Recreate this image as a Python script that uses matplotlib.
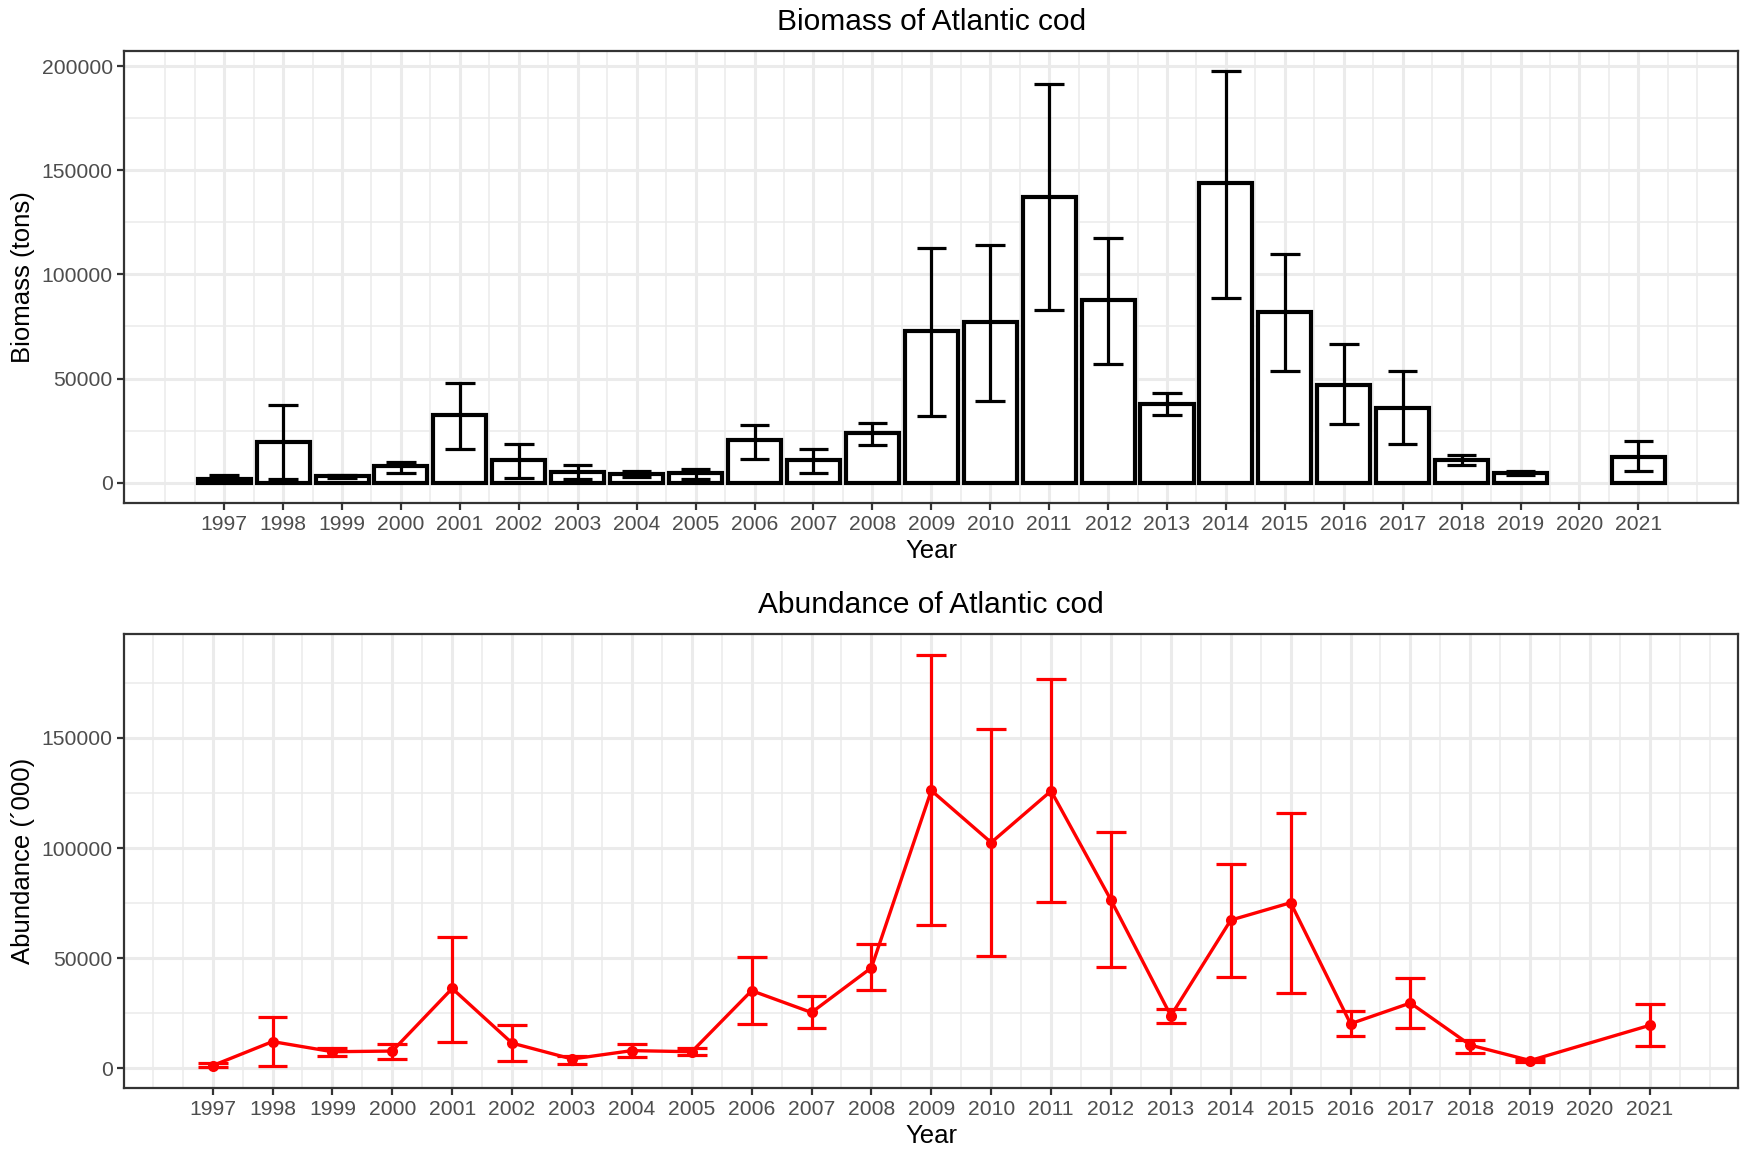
import numpy as np
import matplotlib
matplotlib.use("Agg")
import matplotlib.pyplot as plt
from matplotlib.ticker import FixedLocator

plt.rcParams['font.family'] = ['Liberation Sans', 'DejaVu Sans']

# ---------------- data ----------------
years = list(range(1997, 2022))
nan = float('nan')

biomass = [1900, 19500, 3200, 8000, 32600, 10900, 5100, 4150, 4600, 20300,
           10900, 24000, 72700, 77100, 137300, 87800, 38000, 143700, 81900,
           47100, 35900, 10700, 4800, nan, 12300]
biomass_lo = [300, 1600, 2100, 4800, 16400, 2200, 1900, 2900, 1900, 11500,
              4600, 18200, 31800, 39300, 82700, 57000, 32700, 88900, 53500,
              28100, 18800, 8300, 3500, nan, 5400]
biomass_hi = [3800, 37400, 3800, 9900, 48100, 18400, 8300, 5400, 6700, 27600,
              16400, 28700, 112900, 114000, 191600, 117500, 43000, 197500,
              109900, 66400, 53700, 13100, 5400, nan, 20000]

abundance = [1300, 12200, 7600, 7900, 36300, 11500, 4300, 8100, 7600, 35300,
             25400, 45700, 126100, 102500, 125900, 76400, 23900, 67300, 75200,
             20300, 29700, 10600, 3600, nan, 19600]
abundance_lo = [500, 1000, 5800, 4300, 12200, 3300, 2100, 5100, 5900, 20000,
                18300, 35500, 65000, 51200, 75600, 46000, 20500, 41600, 34300,
                14900, 18300, 7100, 3000, nan, 10100]
abundance_hi = [2600, 23400, 9100, 11100, 59700, 19500, 5600, 10900, 9200,
                50500, 32800, 56300, 187600, 154000, 176900, 107400, 27100,
                92900, 115700, 26100, 41100, 12900, 4300, nan, 29400]

x_tick_labels = [str(y) for y in years]
biomass_yticks = [0, 50000, 100000, 150000, 200000]
abundance_yticks = [0, 50000, 100000, 150000]

title_top = "Biomass of Atlantic cod"
title_bottom = "Abundance of Atlantic cod"
ylabel_top = "Biomass (tons)"
ylabel_bottom = "Abundance (\u00b4000)"
xlabel = "Year"

# ---------------- style ----------------
W, H = 1743, 1151
GRID = "#EBEBEB"
DARK = "#333333"
TICKTXT = "#4D4D4D"
BAR_W = 0.9
ERR_W = 0.5

fig = plt.figure(figsize=(W / 100, H / 100), dpi=100)
fig.patch.set_facecolor("white")


def px_axes(l, t, r, b):
    return fig.add_axes([l / W, 1 - b / H, (r - l) / W, (b - t) / H])


def expand(lo, hi, m=0.05):
    d = hi - lo
    return lo - m * d, hi + m * d


def style(ax, yticks, xlim, ylim, title, ylabel):
    ax.set_xlim(*xlim)
    ax.set_ylim(*ylim)
    ax.set_axisbelow(True)
    for s in ax.spines.values():
        s.set_color(DARK)
        s.set_linewidth(1.6)
        s.set_zorder(10)
    ax.xaxis.set_major_locator(FixedLocator(years))
    ax.set_xticklabels(x_tick_labels)
    xminor = np.arange(years[0] - 1, years[-1] + 1.001, 0.5)
    ax.xaxis.set_minor_locator(FixedLocator(xminor))
    ax.yaxis.set_major_locator(FixedLocator(yticks))
    ax.set_yticklabels([str(v) for v in yticks])
    step = yticks[1] - yticks[0]
    yminor = np.arange(yticks[0] - step, yticks[-1] + step * 1.001, step / 2)
    ax.yaxis.set_minor_locator(FixedLocator(yminor))
    ax.grid(True, which="major", color=GRID, linewidth=2.2)
    ax.grid(True, which="minor", color=GRID, linewidth=1.1)
    ax.tick_params(which="major", length=4.8, width=1.6, color=DARK,
                   labelsize=15.2, labelcolor=TICKTXT, pad=3.5)
    ax.tick_params(which="minor", length=0)
    ax.set_title(title, fontsize=21.5, color="black", y=1.064, va="center",
                 pad=0)
    ax.set_xlabel(xlabel, fontsize=18.5, color="black")
    ax.xaxis.set_label_coords(0.5, -0.106)
    ax.xaxis.label.set_va("center")
    ax.set_ylabel(ylabel, fontsize=18.5, color="black")
    ax.yaxis.set_label_coords(-0.063, 0.5)
    ax.yaxis.label.set_va("center")


def draw_errorbars(ax, xs, lo, hi, color, lw):
    for x, l, h in zip(xs, lo, hi):
        if np.isnan(l) or np.isnan(h):
            continue
        ax.plot([x - ERR_W / 2, x + ERR_W / 2, np.nan, x, x, np.nan,
                 x - ERR_W / 2, x + ERR_W / 2],
                [h, h, np.nan, h, l, np.nan, l, l],
                color=color, lw=lw, solid_capstyle="butt", zorder=4)


yrs = np.array(years, dtype=float)

# ---------------- top panel: biomass bars ----------------
ax1 = px_axes(124.3, 50.7, 1738.3, 503.3)
b = np.array(biomass, dtype=float)
bl = np.array(biomass_lo, dtype=float)
bh = np.array(biomass_hi, dtype=float)
ok = ~np.isnan(b)
ax1.bar(yrs[ok], b[ok], width=BAR_W, facecolor="white", edgecolor="black",
        linewidth=3.0, zorder=3)
draw_errorbars(ax1, yrs, bl, bh, "black", 2.3)
style(ax1, biomass_yticks,
      expand(yrs.min() - BAR_W / 2, yrs.max() + BAR_W / 2),
      expand(0, np.nanmax(bh)),
      title_top, ylabel_top)

# ---------------- bottom panel: abundance line ----------------
ax2 = px_axes(124.3, 634.3, 1738.3, 1088)
a = np.array(abundance, dtype=float)
al = np.array(abundance_lo, dtype=float)
ah = np.array(abundance_hi, dtype=float)
ok2 = ~np.isnan(a)
draw_errorbars(ax2, yrs, al, ah, "red", 2.3)
ax2.plot(yrs[ok2], a[ok2], color="red", lw=2.4, zorder=5,
         solid_joinstyle="round")
ax2.plot(yrs[ok2], a[ok2], "o", color="red", markersize=8, zorder=6,
         markeredgewidth=0)
style(ax2, abundance_yticks,
      expand(yrs.min() - ERR_W / 2, yrs.max() + ERR_W / 2),
      expand(np.nanmin(al), np.nanmax(ah)),
      title_bottom, ylabel_bottom)

fig.savefig("out.png", dpi=100, facecolor="white")
